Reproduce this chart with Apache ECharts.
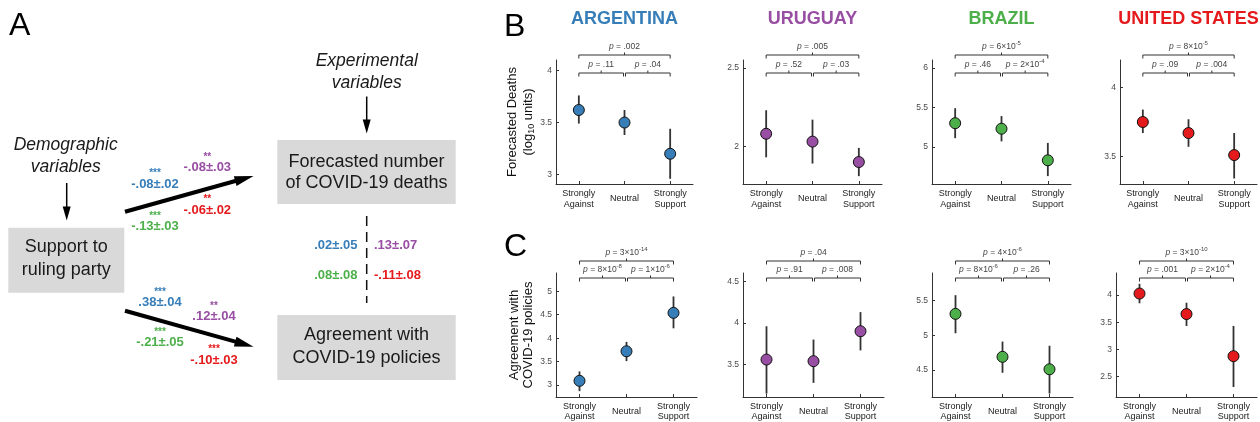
<!DOCTYPE html>
<html><head><meta charset="utf-8">
<script src="https://cdn.jsdelivr.net/npm/echarts@6/dist/echarts.min.js"></script>
<style>html,body{margin:0;padding:0;background:#fff}#c{width:1260px;height:422px}</style>
</head><body><div id="c"></div>
<script>
// ---------------- DATA ----------------
const countries = ['ARGENTINA', 'URUGUAY', 'BRAZIL', 'UNITED STATES'];
const colors = ['#377EB8', '#984EA3', '#4DAF4A', '#E41A1C'];
const categories = ['Strongly\nAgainst', 'Neutral', 'Strongly\nSupport'];

// Panel B: forecasted deaths (log10 units)
const deathsMean = [[3.62, 3.50, 3.20], [2.08, 2.03, 1.90], [5.30, 5.23, 4.83], [3.75, 3.67, 3.51]];
const deathsLow  = [[3.49, 3.38, 2.96], [1.93, 1.89, 1.81], [5.11, 5.07, 4.63], [3.67, 3.57, 3.34]];
const deathsHigh = [[3.76, 3.62, 3.44], [2.23, 2.17, 1.99], [5.49, 5.39, 5.05], [3.84, 3.77, 3.67]];
const deathsRange = [[2.91, 4.10], [1.76, 2.55], [4.53, 6.10], [3.30, 4.20]];
const deathsTicks = [[3, 3.5, 4], [2, 2.5], [5, 5.5, 6], [3.5, 4]];
const deathsP = [['.002', '.11', '.04'], ['.005', '.52', '.03'], ['6×10^-5', '.46', '2×10^-4'], ['8×10^-5', '.09', '.004']];

// Panel C: agreement with COVID-19 policies
const policyMean = [[3.09, 3.72, 4.54], [3.56, 3.54, 3.90], [5.31, 4.69, 4.51], [4.03, 3.65, 2.87]];
const policyLow  = [[2.87, 3.51, 4.21], [3.15, 3.28, 3.67], [5.03, 4.46, 4.16], [3.85, 3.43, 2.30]];
const policyHigh = [[3.29, 3.92, 4.89], [3.96, 3.80, 4.13], [5.58, 4.91, 4.85], [4.21, 3.86, 3.43]];
const policyRange = [[2.745, 5.39], [3.11, 4.60], [4.11, 5.90], [2.115, 4.41]];
const policyTicks = [[3, 3.5, 4, 4.5, 5], [3.5, 4, 4.5], [4.5, 5, 5.5], [2.5, 3, 3.5, 4]];
const policyP = [['3×10^-14', '8×10^-8', '1×10^-6'], ['.04', '.91', '.008'], ['4×10^-6', '8×10^-6', '.26'], ['3×10^-10', '.001', '2×10^-4']];

// Panel A: path coefficients (order: Argentina, Uruguay, Brazil, United States)
const coefDeaths = ['-.08±.02', '-.08±.03', '-.13±.03', '-.06±.02'];
const starsDeaths = ['***', '**', '***', '**'];
const coefPolicy = ['.38±.04', '.12±.04', '-.21±.05', '-.10±.03'];
const starsPolicy = ['***', '**', '***', '***'];
const coefLink = ['.02±.05', '.13±.07', '.08±.08', '-.11±.08'];

// ---------------- LAYOUT ----------------
const FONT = '"Liberation Sans", Arial, Helvetica, sans-serif';
const L = {
  top: [60, 273], height: [124, 125],
  left: [[556, 743, 932, 1120], [556, 743, 932, 1116]],
  width: [[137, 139, 139, 137], [141, 141, 141, 141]],
  brTop: [-5, -12], brInner: [13, 5],
  nameGap: [17, 20], nameLH: [16, 14.5],
  labMargin: [15, 14.5]
};
const rows = [
  {mean: deathsMean, low: deathsLow, high: deathsHigh, range: deathsRange, ticks: deathsTicks, p: deathsP,
   name: 'Forecasted Deaths\n(log{sub|10} units)'},
  {mean: policyMean, low: policyLow, high: policyHigh, range: policyRange, ticks: policyTicks, p: policyP,
   name: 'Agreement with\nCOVID-19 policies'}
];

function pText(s) {
  return '{i|p}{n| = ' + s.replace(/\^(\S+)$/, '}{s|$1}').replace(/([^}])$/, '$1}');
}
const pRich = {
  i: {fontStyle: 'italic', fontSize: 8.5, fontFamily: FONT, fill: '#444', color: '#444', lineHeight: 12},
  n: {fontSize: 8.5, fontFamily: FONT, fill: '#444', color: '#444', lineHeight: 12},
  s: {fontSize: 6, fontFamily: FONT, fill: '#444', color: '#444', lineHeight: 6, verticalAlign: 'top'}
};

const grids = [], xAxes = [], yAxes = [], series = [];
rows.forEach((row, r) => {
  for (let c = 0; c < 4; c++) {
    const gi = r * 4 + c;
    grids.push({left: L.left[r][c], top: L.top[r], width: L.width[r][c], height: L.height[r], containLabel: false});
    xAxes.push({
      type: 'category', gridIndex: gi, data: categories, boundaryGap: true,
      axisLine: {lineStyle: {color: '#333', width: 1}},
      axisTick: {show: true, alignWithLabel: true, inside: true, length: 3, lineStyle: {color: '#333'}},
      axisLabel: {interval: 0, color: '#222', fontSize: 9, lineHeight: 10.5, fontFamily: FONT,
                  verticalAlign: 'middle', margin: L.labMargin[r]},
      splitLine: {show: false}
    });
    const y = {
      type: 'value', gridIndex: gi, min: row.range[c][0], max: row.range[c][1],
      axisLine: {show: true, lineStyle: {color: '#333', width: 1}},
      axisTick: {show: true, inside: true, length: 3, customValues: row.ticks[c], lineStyle: {color: '#333'}},
      axisLabel: {customValues: row.ticks[c], color: '#4a4a4a', fontSize: 8.5, fontFamily: FONT, margin: 4},
      splitLine: {show: false}
    };
    if (c === 0) {
      Object.assign(y, {
        name: row.name, nameLocation: 'middle', nameRotate: 90, nameGap: L.nameGap[r],
        nameTextStyle: {fontSize: 13, lineHeight: L.nameLH[r], color: '#111', fontFamily: FONT,
          rich: {sub: {fontSize: 9, lineHeight: 10, verticalAlign: 'bottom', color: '#111', fontFamily: FONT}}}
      });
    }
    yAxes.push(y);

    const mean = row.mean[c], low = row.low[c], high = row.high[c];
    series.push({
      type: 'custom', xAxisIndex: gi, yAxisIndex: gi, z: 2, silent: true,
      data: mean.map((m, i) => [i, low[i], high[i]]), encode: {x: 0, y: [1, 2]},
      renderItem: (params, api) => {
        const a = api.coord([api.value(0), api.value(1)]);
        const b = api.coord([api.value(0), api.value(2)]);
        return {type: 'line', shape: {x1: a[0], y1: a[1], x2: b[0], y2: b[1]},
                style: {stroke: '#333', lineWidth: 1.8}};
      }
    });
    series.push({
      type: 'scatter', xAxisIndex: gi, yAxisIndex: gi, z: 3, silent: true,
      data: mean.map((m, i) => [i, m]), symbolSize: 11,
      itemStyle: {color: colors[c], borderColor: '#111', borderWidth: 1, opacity: 1}
    });
    const labels = row.p[c];
    series.push({
      type: 'custom', xAxisIndex: gi, yAxisIndex: gi, z: 4, silent: true, clip: false,
      data: [[0, 2, 0], [0, 1, 1], [1, 2, 1]], encode: {x: [0, 1]},
      renderItem: (params, api) => {
        let x0 = api.coord([api.value(0), 0])[0];
        let x1 = api.coord([api.value(1), 0])[0];
        const lvl = api.value(2);
        if (lvl === 1) { if (api.value(0) === 1) x0 += 1; else x1 -= 1; }
        const yy = params.coordSys.y + (lvl === 0 ? L.brTop[r] : L.brInner[r]);
        const xm = (x0 + x1) / 2;
        const txt = pText(labels[params.dataIndex]);
        return {type: 'group', children: [
          {type: 'polyline', shape: {points: [[x0, yy + 3.5], [x0, yy], [x1, yy], [x1, yy + 3.5]]},
           style: {stroke: '#333', lineWidth: 1, fill: null}},
          {type: 'line', shape: {x1: xm, y1: yy, x2: xm, y2: yy - 2.5}, style: {stroke: '#333', lineWidth: 1}},
          {type: 'text', style: {text: txt, x: xm, y: yy - 8.5, align: 'center', verticalAlign: 'middle',
            textAlign: 'center', textVerticalAlign: 'middle', fontSize: 8.5, fontFamily: FONT, fill: '#444', rich: pRich}}
        ]};
      }
    });
  }
});

// ---------------- GRAPHIC (panel A, letters, titles) ----------------
const G = [];
function text(t, x, y, font, fill, align) {
  G.push({type: 'text', x: x, y: y, silent: true,
    style: {text: t, font: font, fill: fill || '#1a1a1a', align: align || 'center', verticalAlign: 'middle',
            textAlign: align || 'center', textVerticalAlign: 'middle'}});
}
function arrow(x1, y1, x2, y2, w, hl, hw) {
  const dx = x2 - x1, dy = y2 - y1, len = Math.hypot(dx, dy), ux = dx / len, uy = dy / len;
  const bx = x2 - ux * hl, by = y2 - uy * hl, px = -uy, py = ux;
  G.push({type: 'line', silent: true, shape: {x1: x1, y1: y1, x2: bx + ux * 2, y2: by + uy * 2},
          style: {stroke: '#000', lineWidth: w}});
  G.push({type: 'polygon', silent: true,
          shape: {points: [[x2, y2], [bx + px * hw / 2, by + py * hw / 2], [bx - px * hw / 2, by - py * hw / 2]]},
          style: {fill: '#000'}});
}
// panel letters
text('A', 9, 26, '32px ' + FONT, '#000', 'left');
text('B', 504, 27, '32px ' + FONT, '#000', 'left');
text('C', 504, 247.5, '32px ' + FONT, '#000', 'left');
// country titles
countries.forEach((n, c) => text(n, L.left[0][c] + L.width[0][c] / 2, 19, 'bold 18px ' + FONT, colors[c]));

// boxes
const boxFill = '#D9D9D9';
[[277.3, 140, 178.4, 64], [277.3, 315, 178.4, 65], [8.3, 227.7, 116, 65]].forEach(b =>
  G.push({type: 'rect', silent: true, shape: {x: b[0], y: b[1], width: b[2], height: b[3]}, style: {fill: boxFill}}));
const boxFont = '18px ' + FONT;
text('Forecasted number', 366.5, 161.7, boxFont);
text('of COVID-19 deaths', 366.5, 183.3, boxFont);
text('Agreement with', 366.5, 335.5, boxFont);
text('COVID-19 policies', 366.5, 358, boxFont);
text('Support to', 66.3, 247.5, boxFont);
text('ruling party', 66.3, 270, boxFont);
const itFont = 'italic 17.5px ' + FONT;
text('Experimental', 366.7, 61, itFont);
text('variables', 366.7, 82.7, itFont);
text('Demographic', 65.7, 145, itFont);
text('variables', 65.7, 167.3, itFont);
arrow(366.7, 96.5, 366.7, 133.5, 1.5, 14, 8);
arrow(66.7, 183, 66.7, 220.5, 1.5, 14, 8);
arrow(125, 211.7, 253.5, 176, 4, 19, 10);
arrow(125, 310.7, 253.5, 346.7, 4, 19, 10);
G.push({type: 'line', silent: true, shape: {x1: 366.7, y1: 216, x2: 366.7, y2: 303},
        style: {stroke: '#111', lineWidth: 1.5, lineDash: [10, 6]}});

const cFont = 'bold 13px ' + FONT, sFont = 'bold 10px ' + FONT;
const upPos = [[155, 184], [207.3, 167.7], [155, 226.7], [207.3, 210]];
const loPos = [[160, 302.7], [214, 316.7], [160, 342.7], [214, 360]];
upPos.forEach((p, c) => { text(coefDeaths[c], p[0], p[1], cFont, colors[c]); text(starsDeaths[c], p[0], p[1] - 10.5, sFont, colors[c]); });
loPos.forEach((p, c) => { text(coefPolicy[c], p[0], p[1], cFont, colors[c]); text(starsPolicy[c], p[0], p[1] - 10.5, sFont, colors[c]); });
const linkPos = [[357.5, 245.7, 'right'], [374, 245.7, 'left'], [357.5, 275, 'right'], [374, 275, 'left']];
linkPos.forEach((p, c) => text(coefLink[c], p[0], p[1], cFont, colors[c], p[2]));

const chart = echarts.init(document.getElementById('c'), null, {renderer: 'canvas'});
chart.setOption({
  animation: false, backgroundColor: '#fff',
  textStyle: {fontFamily: FONT},
  grid: grids, xAxis: xAxes, yAxis: yAxes, series: series, graphic: G
});
</script></body></html>
